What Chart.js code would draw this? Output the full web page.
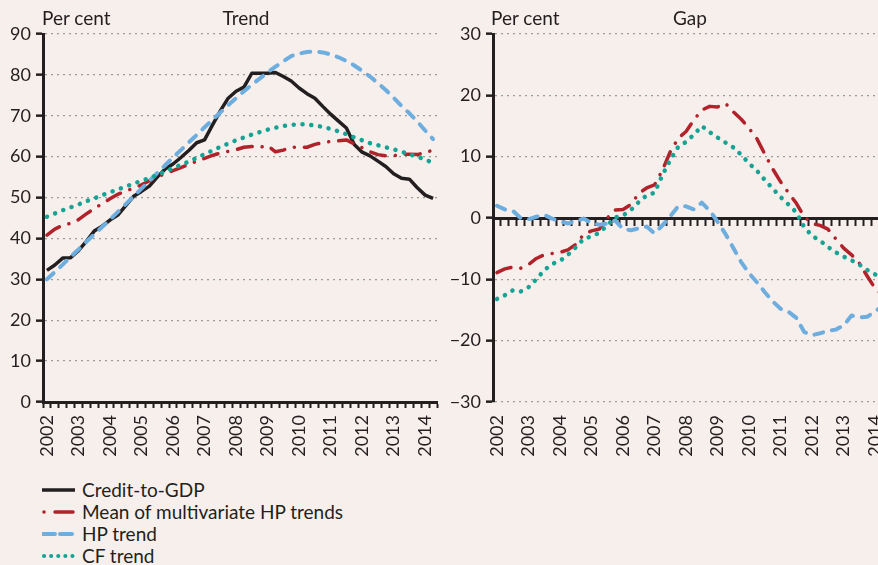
<!DOCTYPE html>
<html>
<head>
<meta charset="utf-8">
<script src="https://cdn.jsdelivr.net/npm/chart.js@4.4.1/dist/chart.umd.min.js"></script>
<style>
  html, body { margin: 0; padding: 0; background: #f6efec; overflow: hidden; width: 878px; height: 565px; }
  body { position: relative; font-family: Lato, sans-serif; color: #231f20; }
  canvas { position: absolute; top: 0; }
  #trend { left: 0; }
  #gap { left: 440px; }
  .lbl { position: absolute; top: 8px; font-size: 19px; line-height: 19px; white-space: nowrap; }
  #legend { position: absolute; left: 42px; top: 479px; font-size: 19px; line-height: 22px; }
  .row { height: 22px; display: flex; align-items: center; white-space: nowrap; }
  .row svg { width: 34px; height: 10px; margin-right: 6px; }
</style>
</head>
<body>
<canvas id="trend" width="440" height="470"></canvas>
<canvas id="gap" width="450" height="470"></canvas>

<div class="lbl" style="left:42px">Per cent</div>
<div class="lbl" style="left:246px; transform:translateX(-50%)">Trend</div>
<div class="lbl" style="left:491px">Per cent</div>
<div class="lbl" style="left:690px; transform:translateX(-50%)">Gap</div>

<div id="legend">
  <div class="row"><svg viewBox="0 0 34 10"><line x1="0" y1="5" x2="33" y2="5" stroke="#231f20" stroke-width="3.5"/></svg>Credit-to-GDP</div>
  <div class="row"><svg viewBox="0 0 34 10"><circle cx="2" cy="5" r="1.8" fill="#b2222a"/><line x1="13" y1="5" x2="31" y2="5" stroke="#b2222a" stroke-width="3.5" stroke-linecap="round"/></svg>Mean of multivariate HP trends</div>
  <div class="row"><svg viewBox="0 0 34 10"><line x1="1" y1="5" x2="33" y2="5" stroke="#6eaedf" stroke-width="4" stroke-linecap="round" stroke-dasharray="12 5"/></svg>HP trend</div>
  <div class="row"><svg viewBox="0 0 34 10"><line x1="2" y1="5" x2="33" y2="5" stroke="#17a394" stroke-width="4" stroke-linecap="round" stroke-dasharray="0.1 7"/></svg>CF trend</div>
</div>

<script>
// quarterly data, 2002 Q1 - 2014 Q2
const years = ['2002', '2003', '2004', '2005', '2006', '2007', '2008', '2009', '2010', '2011', '2012', '2013', '2014'];

// Trend panel (per cent of GDP)
const creditToGdp = [32.2, 33.5, 35.2, 35.3, 37.0, 39.3, 41.8, 43.0, 44.5, 45.7,
  48.0, 50.3, 51.5, 52.8, 55.0, 57.0, 58.2, 59.8, 61.5, 63.4,
  64.1, 67.7, 71.2, 74.3, 76.0, 77.0, 80.4, 80.4, 80.4, 80.6,
  79.6, 78.5, 76.8, 75.4, 74.3, 72.3, 70.4, 68.7, 67.0, 63.0,
  61.1, 60.2, 58.9, 57.6, 55.8, 54.7, 54.5, 52.4, 50.6, 49.8];
const meanMultiHpTrend = [40.8, 42.3, 43.2, 43.7, 44.6, 46.0, 47.3, 48.5, 49.7, 50.8,
  51.6, 52.3, 53.1, 54.1, 55.1, 55.8, 56.6, 57.3, 58.1, 58.9,
  59.6, 60.3, 60.9, 61.3, 61.7, 62.3, 62.5, 62.3, 62.7, 61.2,
  61.6, 62.3, 62.3, 62.3, 63.0, 63.4, 63.7, 63.9, 64.1, 63.1,
  62.2, 61.2, 60.5, 60.2, 60.2, 60.6, 60.6, 60.5, 61.0, 61.6];
const hpTrend = [30.0, 31.8, 33.6, 35.5, 37.3, 39.2, 41.0, 42.8, 44.6, 46.5,
  48.4, 50.3, 52.2, 54.1, 56.0, 57.9, 59.8, 61.6, 63.5, 65.3,
  67.2, 69.0, 70.8, 72.6, 74.3, 76.0, 77.6, 79.1, 80.6, 82.0,
  83.3, 84.6, 85.2, 85.6, 85.7, 85.5, 85.0, 84.3, 83.4, 82.3,
  81.0, 79.6, 78.0, 76.3, 74.4, 72.4, 70.6, 68.6, 66.4, 64.3];
const cfTrend = [45.3, 46.1, 46.9, 47.6, 48.3, 49.1, 49.8, 50.6, 51.3, 52.0,
  52.7, 53.4, 54.1, 54.8, 55.5, 56.4, 57.2, 58.0, 58.8, 59.7,
  60.6, 61.5, 62.4, 63.2, 64.0, 64.7, 65.4, 66.0, 66.6, 67.1,
  67.5, 67.8, 67.9, 67.9, 67.6, 67.3, 66.8, 66.2, 65.5, 64.7,
  64.0, 63.3, 62.8, 62.3, 61.8, 61.2, 60.6, 60.0, 59.3, 58.5];

// Gap panel (percentage points)
const meanMultiHpGap = [-8.9, -8.3, -8.0, -8.2, -7.6, -6.6, -6.0, -5.8, -5.6, -5.2,
  -4.3, -2.7, -2.1, -1.8, 0.0, 1.3, 1.4, 2.2, 4.0, 4.9,
  5.4, 7.8, 10.8, 13.0, 14.1, 16.0, 17.6, 18.2, 18.1, 18.7,
  17.3, 16.1, 14.6, 12.9, 10.4, 8.0, 5.9, 4.1, 2.4, 0.2,
  -0.9, -1.2, -1.8, -3.4, -4.9, -6.0, -7.4, -9.5, -11.5, -12.6];
const hpGap = [2.0, 1.4, 1.2, 0.0, -0.2, 0.2, 0.5, -0.1, -0.5, -0.9,
  -0.5, -0.1, -0.8, -1.1, -0.9, -0.4, -1.8, -2.0, -1.7, -1.4,
  -2.5, -1.2, 0.3, 1.9, 1.9, 1.4, 2.5, 1.2, -0.6, -2.6,
  -4.9, -7.2, -9.0, -10.5, -12.1, -13.6, -14.8, -15.3, -16.3, -18.6,
  -19.1, -18.8, -18.4, -18.2, -17.5, -15.9, -16.2, -16.1, -15.2, -14.3];
const cfGap = [-13.2, -12.6, -11.8, -12.0, -11.3, -10.0, -8.5, -7.5, -7.0, -6.0,
  -4.8, -3.4, -3.0, -2.4, -1.2, 0.1, 0.4, 1.3, 2.6, 3.7,
  4.1, 7.0, 9.5, 11.6, 12.4, 13.6, 15.0, 14.0, 13.1, 12.3,
  11.5, 10.3, 8.9, 7.7, 6.2, 4.8, 3.4, 2.2, 0.9, -1.5,
  -2.9, -3.7, -4.7, -5.6, -6.3, -6.9, -7.6, -8.5, -9.2, -9.8];

const quarterLabels = years.flatMap(y => ['Q1', 'Q2', 'Q3', 'Q4'].map(q => y + ' ' + q)).slice(0, creditToGdp.length);

const black = '#231f20';
const red = '#b2222a';
const blue = '#6eaedf';
const teal = '#17a394';
const gridGrey = '#9e9a98';

Chart.defaults.font.family = 'Lato, sans-serif';
Chart.defaults.font.size = 18;
Chart.defaults.color = black;

const lineSet = (label, data, color, width, dash) => ({
  label: label,
  data: data,
  xAxisID: 'x',
  borderColor: color,
  backgroundColor: color,
  borderWidth: width,
  borderDash: dash,
  borderCapStyle: dash.length ? 'round' : 'butt',
  borderJoinStyle: 'round',
  pointRadius: 0,
  tension: 0,
  fill: false
});

const redDash = [15, 10, 0.1, 10];
const blueDash = [9, 9];
const tealDots = [0.1, 8.7];

const yearOnly = function (value) {
  const lab = this.getLabelForValue(value);
  return lab.endsWith('Q1') ? lab.slice(0, 4) : '';
};

const fixX = s => { s.height = 68; s.paddingLeft = 0; s.paddingRight = 0; };
const fixY = w => s => { s.width = w; s.paddingTop = 0; s.paddingBottom = 0; };

new Chart(document.getElementById('trend'), {
  type: 'line',
  data: {
    labels: quarterLabels,
    datasets: [
      lineSet('CF trend', cfTrend, teal, 4.5, tealDots),
      lineSet('HP trend', hpTrend, blue, 4, blueDash),
      lineSet('Mean of multivariate HP trends', meanMultiHpTrend, red, 3.5, redDash),
      lineSet('Credit-to-GDP', creditToGdp, black, 3.5, [])
    ]
  },
  options: {
    responsive: false,
    animation: false,
    layout: { padding: { top: 34, right: 3, left: 0, bottom: 0 } },
    plugins: { legend: { display: false }, tooltip: { enabled: false } },
    scales: {
      x: {
        offset: true,
        grid: { offset: true, drawOnChartArea: false, tickLength: 6, tickWidth: 2, tickColor: black },
        border: { color: black, width: 3 },
        ticks: { autoSkip: false, minRotation: 90, maxRotation: 90, padding: 7, callback: yearOnly },
        afterFit: fixX
      },
      y: {
        min: 0,
        max: 90,
        ticks: { stepSize: 10, padding: 5 },
        grid: { color: gridGrey, lineWidth: 1.3, tickLength: 7, tickWidth: 2.5, tickColor: black },
        border: { color: black, width: 3, dash: [2, 4] },
        afterFit: fixY(43)
      }
    }
  }
});

new Chart(document.getElementById('gap'), {
  type: 'line',
  data: {
    labels: quarterLabels,
    datasets: [
      lineSet('CF trend', cfGap, teal, 4.5, tealDots),
      lineSet('HP trend', hpGap, blue, 4, blueDash),
      lineSet('Mean of multivariate HP trends', meanMultiHpGap, red, 3.5, redDash)
    ]
  },
  options: {
    responsive: false,
    animation: false,
    layout: { padding: { top: 34, right: 3, left: 0, bottom: 0 } },
    plugins: { legend: { display: false }, tooltip: { enabled: false } },
    scales: {
      x: {
        offset: true,
        grid: { display: false, drawTicks: false },
        border: { display: false },
        ticks: { autoSkip: false, minRotation: 90, maxRotation: 90, padding: 13, callback: yearOnly },
        afterFit: fixX
      },
      x2: {
        type: 'category',
        position: { y: 0 },
        offset: true,
        grid: { offset: true, drawOnChartArea: false, tickLength: 6, tickWidth: 2, tickColor: black },
        border: { color: black, width: 3 },
        ticks: { display: false }
      },
      y: {
        min: -30,
        max: 30,
        ticks: { stepSize: 10, padding: 5, callback: v => v < 0 ? '\u2212' + Math.abs(v) : v },
        grid: {
          color: c => (c.tick && c.tick.value === 0) ? 'rgba(0,0,0,0)' : gridGrey,
          lineWidth: 1.3, tickLength: 7, tickWidth: 2.5, tickColor: black
        },
        border: { color: black, width: 3, dash: [2, 4] },
        afterFit: fixY(53)
      }
    }
  }
});
</script>
</body>
</html>
